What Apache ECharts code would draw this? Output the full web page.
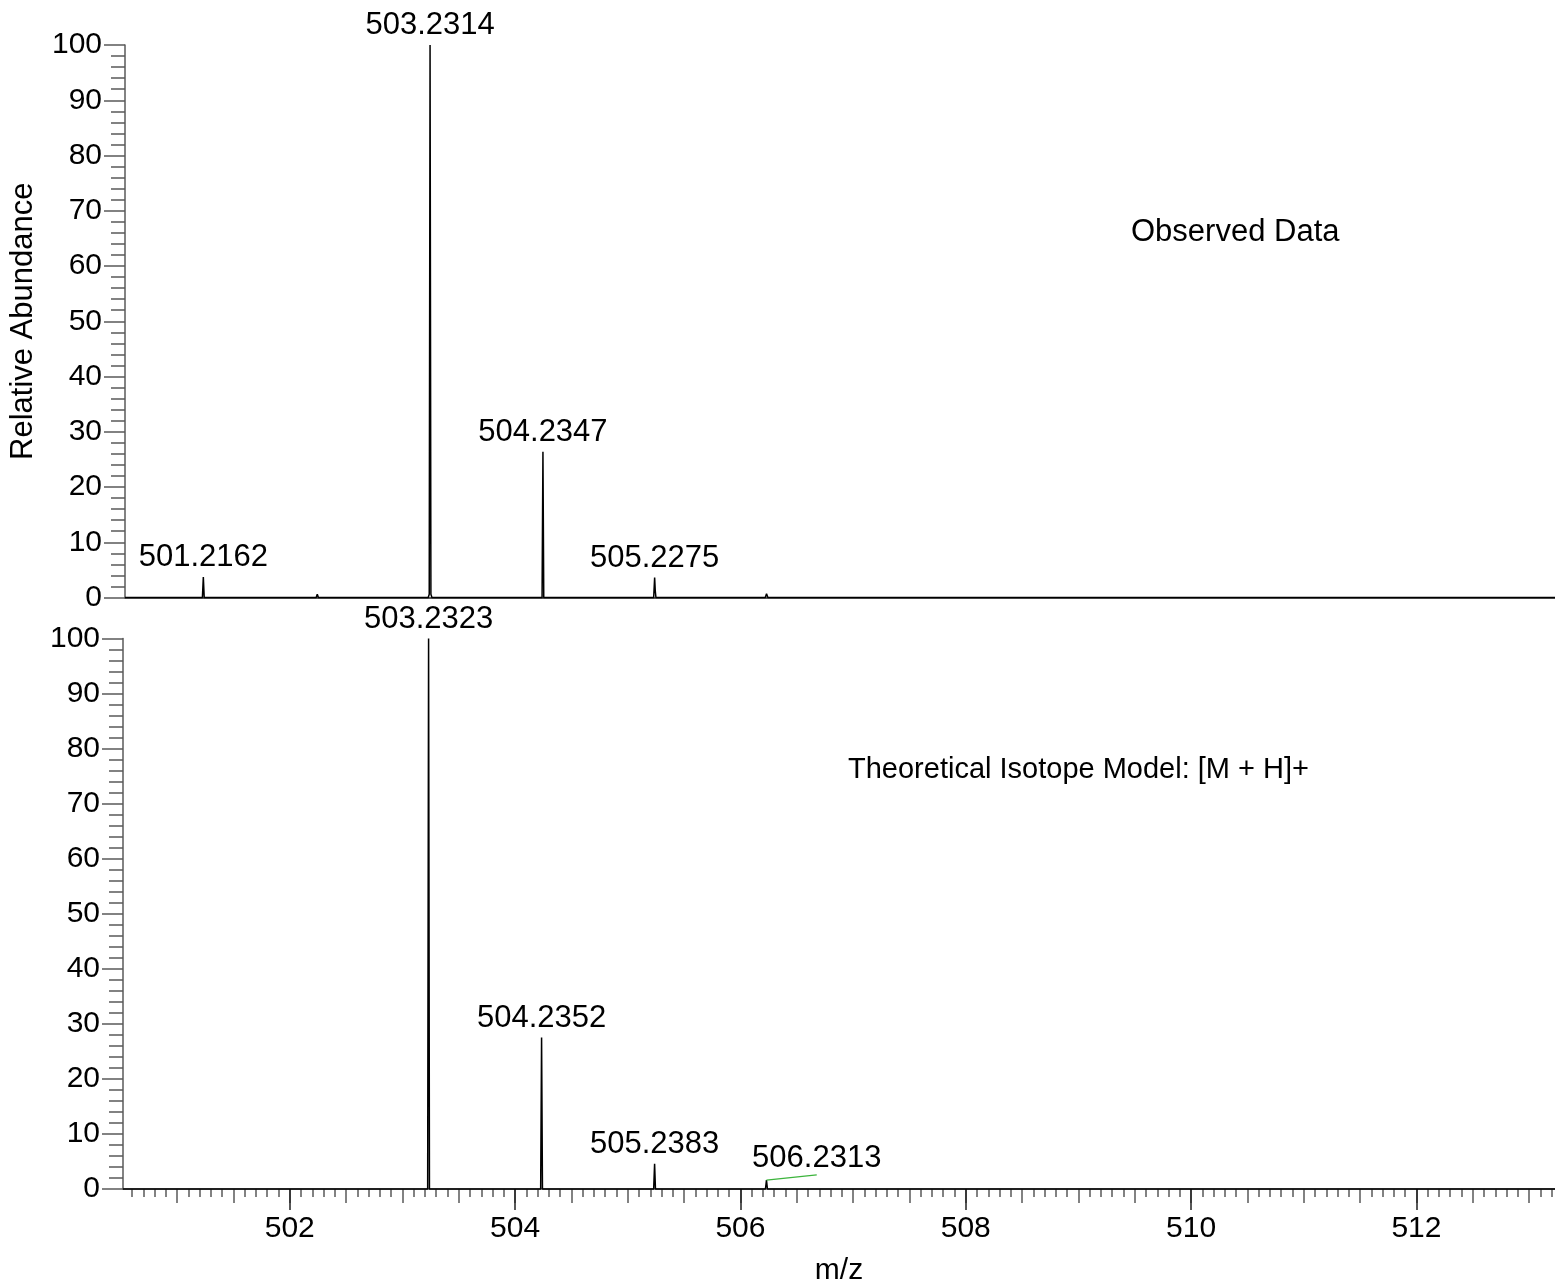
<!DOCTYPE html>
<html><head><meta charset="utf-8">
<script src="https://cdn.jsdelivr.net/npm/echarts@6/dist/echarts.min.js"></script>
<style>html,body{margin:0;padding:0;background:#fff}#c{width:1555px;height:1287px}</style>
</head><body><div id="c"></div>
<script>
// ---- data ----
const mzMin = 500.52, mzMax = 513.23;
const xTickLabels = [502, 504, 506, 508, 510, 512];
const yTickLabels = [0, 10, 20, 30, 40, 50, 60, 70, 80, 90, 100];

const observedProfile = [
  [500.52, 0],
  [501.208, 0], [501.2162, 3.7], [501.224, 0],
  [502.219, 0], [502.229, 0.6], [502.239, 0],
  [503.058, 0], [503.068, 0.3], [503.078, 0],
  [503.215, 0], [503.224, 0.6], [503.2314, 100], [503.239, 0.6], [503.248, 0],
  [503.378, 0], [503.388, 0.3], [503.398, 0],
  [503.708, 0], [503.718, 0.3], [503.728, 0],
  [504.227, 0], [504.2347, 26.4], [504.242, 0],
  [505.219, 0], [505.2275, 3.6], [505.233, 1.2], [505.239, 0],
  [506.211, 0], [506.222, 0.7], [506.234, 0],
  [508.978, 0], [508.99, 0.3], [509.002, 0],
  [513.23, 0]
];
const observedPeakMz = [501.2162, 503.2314, 504.2347, 505.2275];
const observedPeakIntensity = [3.7, 100, 26.4, 3.6];

const theoreticalProfile = [
  [500.52, 0],
  [503.224, 0], [503.2323, 100], [503.240, 0],
  [504.227, 0], [504.2352, 27.5], [504.243, 0],
  [505.230, 0], [505.2383, 4.6], [505.246, 0],
  [506.222, 0], [506.2313, 1.6], [506.240, 0],
  [507.223, 0], [507.235, 0.3], [507.247, 0],
  [513.23, 0]
];
const theoreticalPeakMz = [503.2323, 504.2352, 505.2383];
const theoreticalPeakIntensity = [100, 27.5, 4.6];
const theoreticalSmallPeakMz = 506.2313;
const theoreticalSmallPeakIntensity = 1.6;

const titleObserved = 'Observed Data';
const titleTheoretical = 'Theoretical Isotope Model: [M + H]+';

// ---- layout / style ----
const FONT = 'Liberation Sans, Arial, sans-serif';
const FS = 30;
const axisGrey = '#5a5a5a';

function steps(a, b, s) {
  const out = [];
  const n = Math.round((b - a) / s);
  for (let i = 0; i <= n; i++) out.push(+(a + i * s).toFixed(3));
  return out;
}
const minorTicks = steps(500.6, 513.2, 0.1);
const mediumTicks = steps(501, 513, 0.5);

const chart = echarts.init(document.getElementById('c'), null, {renderer: 'canvas'});

function yAxis(gridIndex, withName) {
  return {
    type: 'value', gridIndex, min: 0, max: 100, interval: 10,
    name: withName ? 'Relative Abundance' : '',
    nameLocation: 'middle', nameGap: 86,
    nameTextStyle: {fontSize: 31, fontFamily: FONT, color: '#000'},
    axisLine: {show: true, lineStyle: {color: axisGrey, width: 1.5}},
    axisTick: {show: true, length: 21, lineStyle: {color: axisGrey, width: 1.5}},
    minorTick: {show: true, splitNumber: 5, length: 14, lineStyle: {color: axisGrey, width: 1.5}},
    axisLabel: {fontSize: FS, fontFamily: FONT, color: '#000', margin: 23,
      formatter: v => String(yTickLabels[Math.round(v / 10)])},
    splitLine: {show: false}
  };
}

function peakLabels(mzs, ints, xi) {
  return {
    type: 'scatter', xAxisIndex: xi, yAxisIndex: xi === 0 ? 0 : 1,
    symbolSize: 0, silent: true, z: 5, itemStyle: {opacity: 1, color: '#000'},
    data: mzs.map((m, i) => ({name: m.toFixed(4), value: [m, ints[i]]})),
    label: {show: true, position: 'top', distance: 4, formatter: p => p.name,
      fontSize: 31, fontFamily: FONT, color: '#000', opacity: 1}
  };
}

const option = {
  animation: false,
  backgroundColor: '#fff',
  title: [
    {text: titleObserved, left: 1131, top: 217, padding: 0,
      textStyle: {fontSize: 31, fontWeight: 'normal', fontFamily: FONT, color: '#000'}},
    {text: titleTheoretical, left: 848, top: 755, padding: 0,
      textStyle: {fontSize: 29, fontWeight: 'normal', fontFamily: FONT, color: '#000'}}
  ],
  grid: [
    {left: 123, right: 0, top: 45, height: 552.5, containLabel: false},
    {left: 123, right: 0, top: 638.5, height: 552.3, containLabel: false}
  ],
  xAxis: [
    {type: 'value', gridIndex: 0, min: mzMin, max: mzMax, position: 'bottom',
      axisLine: {show: true, lineStyle: {color: '#222', width: 1.5}},
      axisTick: {show: false}, axisLabel: {show: false}, splitLine: {show: false}},
    {type: 'value', gridIndex: 1, min: mzMin, max: mzMax, position: 'bottom',
      axisLine: {show: true, lineStyle: {color: axisGrey, width: 1.5}},
      axisTick: {show: true, length: 8, customValues: minorTicks, lineStyle: {color: axisGrey, width: 1.5}},
      axisLabel: {show: false}, splitLine: {show: false}},
    {type: 'value', gridIndex: 1, min: mzMin, max: mzMax, position: 'bottom',
      axisLine: {show: false},
      axisTick: {show: true, length: 14, customValues: mediumTicks, lineStyle: {color: axisGrey, width: 1.5}},
      axisLabel: {show: false}, splitLine: {show: false}},
    {type: 'value', gridIndex: 1, min: mzMin, max: mzMax, position: 'bottom',
      name: 'm/z', nameLocation: 'middle', nameGap: 67,
      nameTextStyle: {fontSize: FS, fontFamily: FONT, color: '#000'},
      axisLine: {show: false},
      axisTick: {show: true, length: 21, customValues: xTickLabels, lineStyle: {color: '#222', width: 1.5}},
      axisLabel: {show: true, customValues: xTickLabels, fontSize: FS, fontFamily: FONT, color: '#000', margin: 25,
        formatter: v => String(v)},
      splitLine: {show: false}}
  ],
  yAxis: [yAxis(0, true), yAxis(1, false)],
  series: [
    {type: 'line', xAxisIndex: 0, yAxisIndex: 0, data: observedProfile, symbol: 'none', clip: false,
      lineStyle: {color: '#000', width: 1.5}, z: 3, silent: true},
    {type: 'line', xAxisIndex: 1, yAxisIndex: 1, data: theoreticalProfile, symbol: 'none', clip: false,
      lineStyle: {color: '#000', width: 1.5}, z: 3, silent: true},
    peakLabels(observedPeakMz, observedPeakIntensity, 0),
    peakLabels(theoreticalPeakMz, theoreticalPeakIntensity, 1),
    // leader line + offset label for the small theoretical peak
    {type: 'line', xAxisIndex: 1, yAxisIndex: 1, symbol: 'none', silent: true, z: 4, clip: false,
      lineStyle: {color: '#3cb43c', width: 1.2},
      data: [[theoreticalSmallPeakMz, theoreticalSmallPeakIntensity], [theoreticalSmallPeakMz + 0.446, theoreticalSmallPeakIntensity + 0.95]]},
    {type: 'scatter', xAxisIndex: 1, yAxisIndex: 1, symbolSize: 0, silent: true, z: 5,
      itemStyle: {opacity: 1, color: '#000'},
      data: [{name: theoreticalSmallPeakMz.toFixed(4), value: [theoreticalSmallPeakMz + 0.446, theoreticalSmallPeakIntensity + 0.95]}],
      label: {show: true, position: 'top', distance: 1, formatter: p => p.name,
        fontSize: 31, fontFamily: FONT, color: '#000', opacity: 1}}
  ]
};
chart.setOption(option);
</script>
</body></html>
